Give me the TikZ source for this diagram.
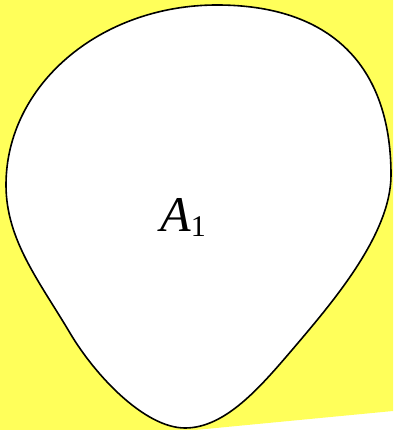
\documentclass[tikz,border=0pt]{standalone}
\usepackage{fontspec}
\setmainfont{Liberation Serif}
\definecolor{bgyellow}{RGB}{255,255,90}
\tikzset{blob/.style={draw=black,line width=1.6pt,fill=white}}
\begin{document}
\begin{tikzpicture}[x=1pt,y=-1pt]
\useasboundingbox (0,0) rectangle (393,430);
\fill[bgyellow] (0,0) -- (393,0) -- (393,411) -- (195,430) -- (0,430) -- cycle;
\draw[blob] (217,5) .. controls (330,5) and (391,65) .. (391,175)
  .. controls (391,235) and (331,304) .. (292,350)
  .. controls (259.5,388) and (225,428) .. (185,428)
  .. controls (145,428) and (95.5,376) .. (70,333)
  .. controls (39.4,281.4) and (6,240) .. (6,185)
  .. controls (6,85) and (100,5) .. cycle;
\node (lab) at (183,217) {\fontsize{50}{60}\selectfont\textit{A}\raisebox{-5pt}{\fontsize{30}{30}\selectfont 1}};
\end{tikzpicture}
\end{document}
